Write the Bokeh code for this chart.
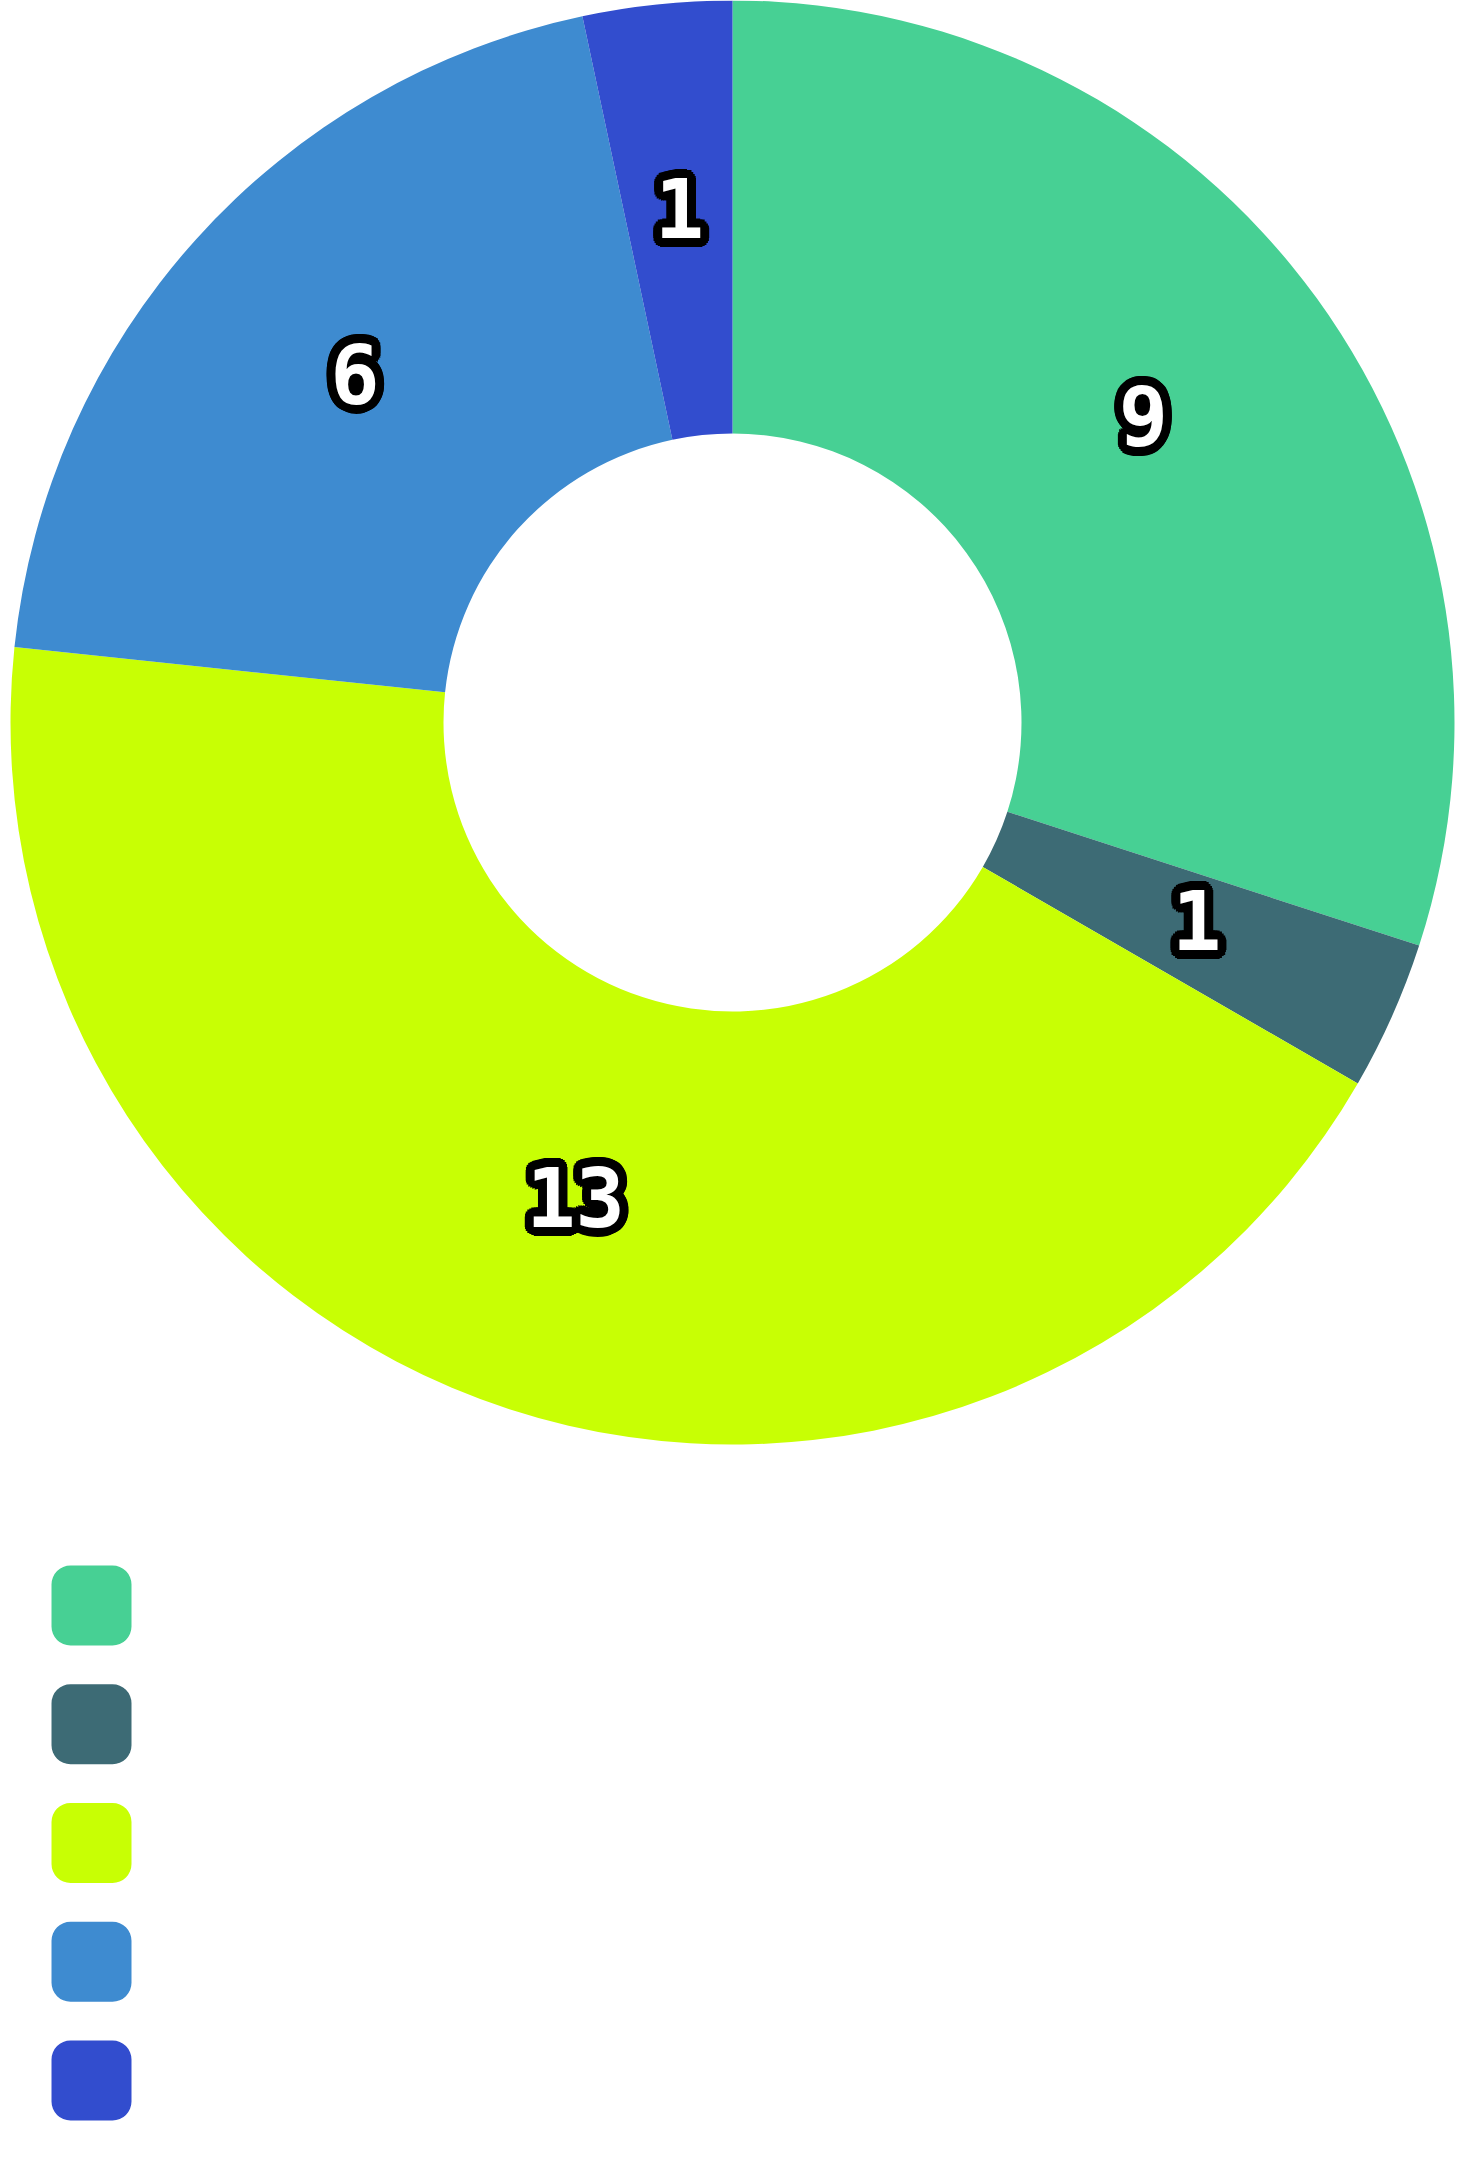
import math
from bokeh.plotting import figure
from bokeh.models import ColumnDataSource, Range1d
from bokeh.core.properties import value
from bokeh.embed import file_html
from bokeh.resources import INLINE

# ---- data ----
values = [9, 1, 13, 6, 1]
labels = ["9", "1", "13", "6", "1"]
colors = ["#47D094", "#3D6B75", "#C8FF04", "#3E8BD0", "#324DCE"]

# ---- layout (pixel-like data units) ----
W, H = 1456, 2152
CX, CY = 0, -722
R_OUT, R_IN = 722, 289
R_LAB = 508
LAB_DY = 9

total = float(sum(values))
starts, ends, lx, ly = [], [], [], []
cum = 0.0
for v in values:
    a0 = math.pi / 2 - cum / total * 2 * math.pi
    cum += v
    a1 = math.pi / 2 - cum / total * 2 * math.pi
    starts.append(a0)
    ends.append(a1)
    mid = (a0 + a1) / 2
    lx.append(CX + R_LAB * math.cos(mid))
    ly.append(CY + R_LAB * math.sin(mid) + LAB_DY)

src = ColumnDataSource(dict(start=starts, end=ends, color=colors,
                            x=[CX] * len(values), y=[CY] * len(values)))

p = figure(width=W, height=H, x_range=Range1d(-732, W - 732), y_range=Range1d(-H, 0),
           output_backend="svg", toolbar_location=None, min_border=0)
p.axis.visible = False
p.grid.visible = False
p.outline_line_color = None
p.background_fill_color = "white"
p.border_fill_color = "white"

p.annular_wedge(x="x", y="y", inner_radius=R_IN, outer_radius=R_OUT,
                start_angle="start", end_angle="end", direction="clock",
                fill_color="color", line_color=None, source=src)

# outlined labels: black halo copies, then white text
hx, hy, ht, hxo, hyo = [], [], [], [], []
for rad in (9, 6, 3):
    for k in range(24):
        ang = 2 * math.pi * k / 24
        for i in range(len(labels)):
            hx.append(lx[i]); hy.append(ly[i]); ht.append(labels[i])
            hxo.append(rad * math.cos(ang)); hyo.append(rad * math.sin(ang))
halo = ColumnDataSource(dict(x=hx, y=hy, t=ht, xo=hxo, yo=hyo))
FONT = value("DejaVu Sans Mono")
FS = value("82px")
p.text(x="x", y="y", text="t", x_offset="xo", y_offset="yo", source=halo,
       text_color="black", text_font=FONT, text_font_size=FS, text_font_style="bold",
       text_align="center", text_baseline="middle")
p.text(x=lx, y=ly, text=labels, text_color="white", text_font=FONT, text_font_size=FS,
       text_font_style="bold", text_align="center", text_baseline="middle")

# legend swatches (no labels in reference)
n = len(colors)
lefts = [-681] * n
rights = [-601] * n
tops = [-(1565 + i * 118.75) for i in range(n)]
bottoms = [t - 80 for t in tops]
p.quad(left=lefts, right=rights, top=tops, bottom=bottoms, fill_color=colors,
       line_color=None, border_radius=19)

open("out.html", "w").write(file_html(p, INLINE))
